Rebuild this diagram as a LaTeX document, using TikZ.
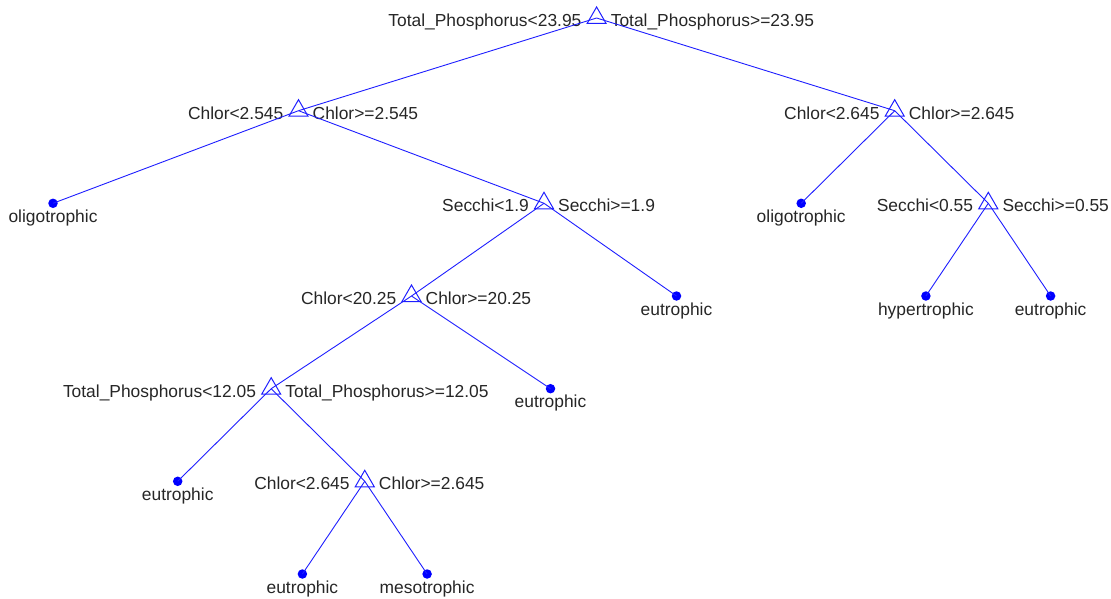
\documentclass[tikz,border=0pt]{standalone}
\usepackage{fontspec}
\setmainfont{Liberation Sans}
\usetikzlibrary{shapes.geometric,calc}
\definecolor{edgeblue}{RGB}{30,30,255}
\definecolor{txt}{RGB}{38,38,38}
\tikzset{
  splitn/.style={regular polygon, regular polygon sides=3, draw=edgeblue, line width=1pt, minimum size=22pt, inner sep=0pt},
  leafn/.style={circle, fill=blue, minimum size=9.5pt, inner sep=0pt},
  lbl/.style={text=txt, font=\fontsize{17.4}{20}\selectfont, inner sep=0pt},
  lsplit/.style={lbl, anchor=base east},
  rsplit/.style={lbl, anchor=base west},
  lleaf/.style={lbl, anchor=base},
  edge/.style={draw=edgeblue, line width=0.9pt}
}
\newcommand\SplitNode[4]{%
  \node[splitn] (#1) at (#2) {};
  \node[lsplit] (#1-l) at ($(#1)+(-15,8.5)$) {#3};
  \node[rsplit] (#1-r) at ($(#1)+(14,8.5)$) {#4};}
\newcommand\LeafNode[3]{%
  \node[leafn] (#1) at (#2) {};
  \node[lleaf] (#1-t) at ($(#1)+(0,19)$) {#3};}
\begin{document}
\begin{tikzpicture}[x=1pt,y=-1pt]
\useasboundingbox (0,0) rectangle (1111,599);
\SplitNode{r}{596.6,18}{Total\_Phosphorus<23.95}{Total\_Phosphorus>=23.95}
\SplitNode{a}{298.5,110.7}{Chlor<2.545}{Chlor>=2.545}
\SplitNode{b}{894.7,110.7}{Chlor<2.645}{Chlor>=2.645}
\LeafNode{c}{53,203.3}{oligotrophic}
\SplitNode{d}{544,203.3}{Secchi<1.9}{Secchi>=1.9}
\LeafNode{e}{801.2,203.3}{oligotrophic}
\SplitNode{f}{988.3,203.3}{Secchi<0.55}{Secchi>=0.55}
\SplitNode{g}{411.5,296}{Chlor<20.25}{Chlor>=20.25}
\LeafNode{h}{676.5,296}{eutrophic}
\LeafNode{i}{925.9,296}{hypertrophic}
\LeafNode{j}{1050.6,296}{eutrophic}
\SplitNode{k}{271.2,388.7}{Total\_Phosphorus<12.05}{Total\_Phosphorus>=12.05}
\LeafNode{l}{550.5,388.7}{eutrophic}
\LeafNode{m}{177.7,481.3}{eutrophic}
\SplitNode{n}{364.75,481.3}{Chlor<2.645}{Chlor>=2.645}
\LeafNode{o}{302.4,574}{eutrophic}
\LeafNode{p}{427.1,574}{mesotrophic}
\foreach \u/\v in {r/a,r/b,a/c,a/d,b/e,b/f,d/g,d/h,f/i,f/j,g/k,g/l,k/m,k/n,n/o,n/p}
  \draw[edge] (\u.center) -- (\v.center);
\end{tikzpicture}
\end{document}
